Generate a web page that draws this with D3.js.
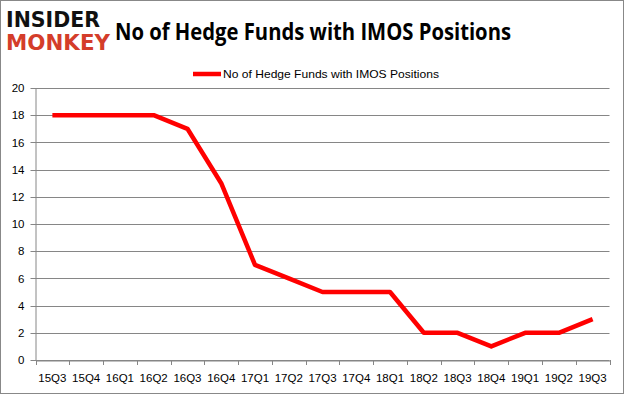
<!DOCTYPE html>
<html><head><meta charset="utf-8">
<script src="https://cdn.jsdelivr.net/npm/d3@7"></script>
<style>body{margin:0;background:#fff}svg{display:block}</style>
</head><body>
<script>
const categories = ["15Q3","15Q4","16Q1","16Q2","16Q3","16Q4","17Q1","17Q2","17Q3","17Q4","18Q1","18Q2","18Q3","18Q4","19Q1","19Q2","19Q3"];
const values = [18,18,18,18,17,13,7,6,5,5,5,2,2,1,2,2,3];
const yTicks = [0,2,4,6,8,10,12,14,16,18,20];
const seriesName = "No of Hedge Funds with IMOS Positions";
const title = "No of Hedge Funds with IMOS Positions";

const W = 625, H = 395;
const svg = d3.select("body").append("svg").attr("width", W).attr("height", H);
svg.append("rect").attr("x",0.5).attr("y",0.5).attr("width",W-2).attr("height",H-2)
  .attr("fill","#fff").attr("stroke","#888");

const pLeft = 35.5, pRight = 609.5, pTop = 88, pBottom = 360;
const x = d3.scaleBand().domain(categories).range([pLeft, pRight]);
const y = d3.scaleLinear().domain([0,20]).range([pBottom, pTop]);

// gridlines
const grid = svg.append("g");
grid.selectAll("line").data(yTicks).join("line")
  .attr("x1", pLeft-5).attr("x2", pRight)
  .attr("y1", d => Math.round(y(d))+0.5).attr("y2", d => Math.round(y(d))+0.5)
  .attr("stroke", "#868686").attr("stroke-width", 1);

// y axis
const yAxis = svg.append("g").attr("transform", `translate(${pLeft},0)`)
  .call(d3.axisLeft(y).tickValues(yTicks).tickSize(0).tickPadding(11));
yAxis.select(".domain").attr("stroke","#868686");
yAxis.selectAll("text").attr("font-family","'Liberation Sans', Arial, sans-serif").attr("font-size",11.5).attr("fill","#000");

// x axis
const xAxis = svg.append("g").attr("transform", `translate(0,${pBottom+0.5})`)
  .call(d3.axisBottom(x).tickSize(0).tickPadding(13));
xAxis.select(".domain").attr("stroke","#868686");
xAxis.selectAll("text").attr("font-family","'Liberation Sans', Arial, sans-serif").attr("font-size",11.5).attr("fill","#000");
// tick marks at band boundaries
const bounds = categories.map(c => x(c)).concat([pRight]);
svg.append("g").selectAll("line").data(bounds).join("line")
  .attr("x1", d => Math.round(d)+0.5).attr("x2", d => Math.round(d)+0.5)
  .attr("y1", pBottom).attr("y2", pBottom+5)
  .attr("stroke","#868686");

// line
const line = d3.line().x((d,i) => x(categories[i]) + x.bandwidth()/2).y(d => y(d));
svg.append("path").datum(values).attr("d", line)
  .attr("fill","none").attr("stroke","#ff0000").attr("stroke-width",4.5).attr("stroke-linejoin","round");

// legend
svg.append("line").attr("x1",193).attr("x2",221).attr("y1",74).attr("y2",74)
  .attr("stroke","#ff0000").attr("stroke-width",4.5);
svg.append("text").attr("x",223).attr("y",78).text(seriesName)
  .attr("font-family","'Liberation Sans', Arial, sans-serif").attr("font-size",11).attr("fill","#000")
  .attr("textLength",216).attr("lengthAdjust","spacingAndGlyphs");

// title
svg.append("text").attr("x",115).attr("y",40).text(title)
  .attr("font-family","'Open Sans', 'Liberation Sans', sans-serif").attr("font-weight","bold").attr("font-size",23).attr("fill","#000")
  .attr("textLength",396).attr("lengthAdjust","spacingAndGlyphs");

// logo
svg.append("text").attr("x",6).attr("y",27).text("INSIDER")
  .attr("font-family","'DejaVu Sans', sans-serif").attr("font-weight","bold").attr("font-size",21).attr("fill","#111")
  .attr("textLength",94).attr("lengthAdjust","spacingAndGlyphs");
svg.append("text").attr("x",6).attr("y",50).text("MONKEY")
  .attr("font-family","'DejaVu Sans', sans-serif").attr("font-weight","bold").attr("font-size",21).attr("fill","#d43d2a")
  .attr("textLength",104).attr("lengthAdjust","spacingAndGlyphs");
</script>
</body></html>
